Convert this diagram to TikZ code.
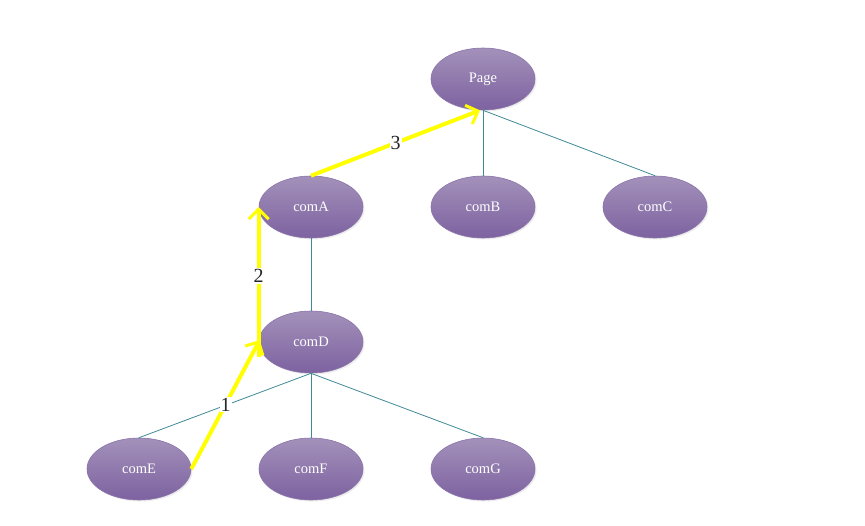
\documentclass[tikz,border=0pt]{standalone}
\usepackage{fontspec}
\setmainfont{Liberation Serif}
\usetikzlibrary{shapes.geometric,arrows.meta,shadows}
\definecolor{nodetop}{HTML}{A391BA}
\definecolor{nodebot}{HTML}{7D62A0}
\definecolor{nodeedge}{HTML}{8A74AA}
\definecolor{linkc}{HTML}{3F8A96}
\definecolor{hl}{HTML}{FFFF00}
\tikzset{
  comp/.style={ellipse, minimum width=104pt, minimum height=62pt, inner sep=0pt,
    top color=nodetop, bottom color=nodebot, draw=nodeedge, line width=0.6pt,
    drop shadow={shadow xshift=1.5pt, shadow yshift=-1.5pt, fill=black!15},
    text=white, font=\fontsize{14.5}{14.5}\selectfont},
  link/.style={draw=linkc, line width=0.8pt},
  hlarrow/.style={draw=hl, line width=4pt, -{Straight Barb[length=10pt,width=20pt,line width=3pt]}},
  steplabel/.style={fill=white, inner sep=1pt, text=black!85, font=\fontsize{20}{20}\selectfont}
}
\begin{document}
\begin{tikzpicture}[x=1pt,y=-1pt]
\useasboundingbox (0,0) rectangle (865,525);
\node[comp] (page) at (483,79) {Page};
\node[comp] (comA) at (311,207) {comA};
\node[comp] (comB) at (483,207) {comB};
\node[comp] (comC) at (655,207) {comC};
\node[comp] (comD) at (311,342) {comD};
\node[comp] (comE) at (139,469) {comE};
\node[comp] (comF) at (311,469) {comF};
\node[comp] (comG) at (483,469) {comG};
\draw[link] (page.south) -- (comB.north);
\draw[link] (page.south) -- (comC.north);
\draw[link] (comA.south) -- (comD.north);
\draw[link] (comD.south) -- (comE.north);
\draw[link] (comD.south) -- (comF.north);
\draw[link] (comD.south) -- (comG.north);
\draw[hlarrow] (comE.east) -- node[steplabel] {1} ([xshift=1pt,yshift=2pt]comD.west);
\draw[hlarrow] ([yshift=-15pt]comD.west) -- node[steplabel, pos=0.54] {2} (comA.west);
\draw[hlarrow] (comA.north) -- node[steplabel] {3} ([xshift=-3pt]page.south);
\end{tikzpicture}
\end{document}
